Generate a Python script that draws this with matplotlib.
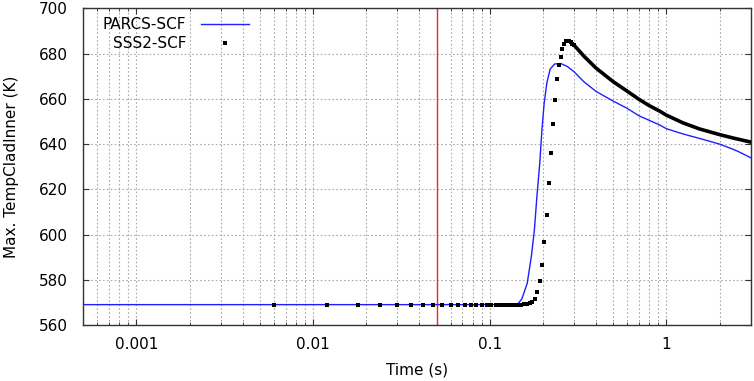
import matplotlib
matplotlib.use("Agg")
import matplotlib.pyplot as plt
from matplotlib.ticker import FixedLocator, FixedFormatter, LogLocator, NullFormatter

# PARCS-SCF (blue line)
parcs_t = [0.0005, 0.143, 0.152, 0.163, 0.172, 0.179, 0.185, 0.192, 0.1975, 0.2034,
           0.2108, 0.22, 0.233, 0.253, 0.275, 0.3, 0.342, 0.4, 0.5, 0.6,
           0.7, 0.8, 0.92, 1.0, 1.24, 1.54, 2.0, 2.28, 2.54, 3.0]
parcs_v = [569.0, 569.0, 571.5, 578.4, 590.2, 602.0, 616.8, 631.5, 646.3, 658.1,
           667.2, 673.2, 675.4, 675.6, 674.3, 672.0, 667.5, 663.3, 659.0, 655.8,
           652.5, 650.5, 648.4, 646.8, 644.5, 642.5, 640.0, 638.3, 636.8, 634.0]

# SSS2-SCF (black dots), one point every 6 ms up to 0.3 s
sss2_t = [0.006, 0.012, 0.018, 0.024, 0.030, 0.036, 0.042, 0.048, 0.054, 0.060,
          0.066, 0.072, 0.078, 0.084, 0.090, 0.096, 0.102, 0.108, 0.114, 0.120,
          0.126, 0.132, 0.138, 0.144, 0.150, 0.156, 0.162, 0.168, 0.174, 0.180,
          0.186, 0.192, 0.198, 0.204, 0.210, 0.216, 0.222, 0.228, 0.234, 0.240,
          0.246, 0.252, 0.258, 0.264, 0.270, 0.276, 0.282, 0.288, 0.294, 0.300]
sss2_v = [569.0, 569.0, 569.0, 569.0, 569.0, 569.0, 569.0, 569.0, 569.0, 569.0,
          569.0, 569.0, 569.0, 569.0, 569.0, 569.0, 569.0, 569.0, 569.0, 569.0,
          569.0, 569.0, 569.0, 569.0, 569.0, 569.1, 569.2, 569.6, 570.2, 571.5,
          574.7, 579.6, 586.4, 596.6, 608.7, 622.7, 636.2, 648.8, 659.5, 668.6,
          674.8, 678.6, 681.9, 684.3, 685.4, 685.7, 685.6, 685.0, 684.4, 683.8]
# dense part of SSS2 after the peak (dots merge into a thick line)
sss2_tail_t = [0.3, 0.342, 0.4, 0.5, 0.6, 0.7, 0.8, 0.92, 1.0, 1.24, 1.54, 2.0,
               2.38, 3.0]
sss2_tail_v = [683.8, 678.8, 673.6, 667.6, 663.4, 659.8, 657.0, 654.5, 652.8, 649.4,
               646.7, 644.2, 642.7, 640.9]

t_event = 0.05

xticks = [0.001, 0.01, 0.1, 1]
xtick_labels = ["0.001", "0.01", "0.1", "1"]
yticks = [560, 580, 600, 620, 640, 660, 680, 700]

plt.rcParams['font.family'] = ['DejaVu Sans']
plt.rcParams['font.size'] = 11

fig = plt.figure(figsize=(7.54, 3.81), dpi=100)
ax = fig.add_axes([0.1105, 0.147, 0.885, 0.831])

ax.plot(parcs_t, parcs_v, color='#1f1fff', lw=1.0, label='PARCS-SCF', zorder=3)
ax.plot(sss2_t, sss2_v, 's', color='black', ms=2.2, mew=0, label='SSS2-SCF', zorder=4)
ax.plot(sss2_tail_t, sss2_tail_v, '-', color='black', lw=2.6, zorder=4)
ax.axvline(t_event, color='#ff2020', lw=1.0, zorder=2)

ax.set_xscale('log')
ax.set_xlim(0.0005, 3.0)
ax.set_ylim(560, 700)

ax.xaxis.set_major_locator(FixedLocator(xticks))
ax.xaxis.set_major_formatter(FixedFormatter(xtick_labels))
ax.xaxis.set_minor_locator(LogLocator(base=10, subs=range(2, 10)))
ax.xaxis.set_minor_formatter(NullFormatter())
ax.set_yticks(yticks)

ax.grid(True, which='both', axis='x', color='#aaaaaa', ls=(0, (1.5, 2)), lw=0.8)
ax.grid(True, which='major', axis='y', color='#aaaaaa', ls=(0, (1.5, 2)), lw=0.8)
ax.set_axisbelow(True)

ax.tick_params(which='both', direction='in', top=True, right=True, color='#333333')
ax.tick_params(axis='y', which='major', length=4, pad=11, labelsize=11)
ax.tick_params(axis='x', which='major', length=4, pad=9, labelsize=11)
ax.tick_params(which='minor', length=2.5)
for s in ax.spines.values():
    s.set_color('#333333')
    s.set_linewidth(1.0)

ax.set_xlabel('Time (s)', fontsize=11, labelpad=7.5)
ax.set_ylabel('Max. TempCladInner (K)', fontsize=11, labelpad=14.5)

ax.legend(loc='upper left', bbox_to_anchor=(0.029, 0.972), frameon=False,
          markerfirst=False, handlelength=3.1, handletextpad=1.0,
          labelspacing=0.25, borderaxespad=0, borderpad=0, markerscale=1.0)

fig.savefig('out.png', dpi=100)
